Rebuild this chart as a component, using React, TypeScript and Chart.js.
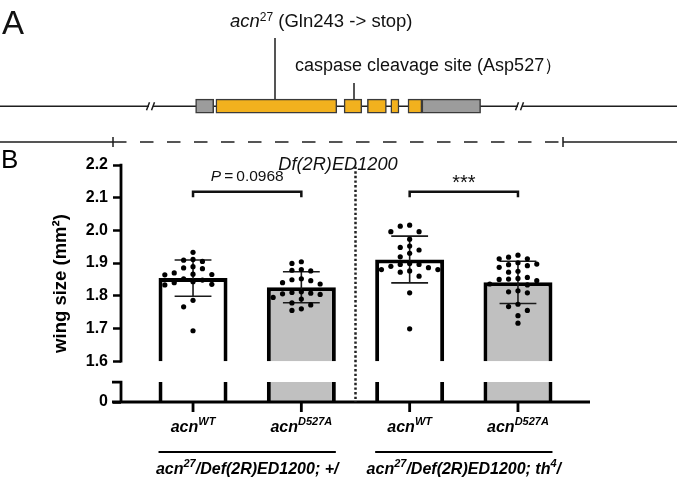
import React, { useEffect, useRef } from 'react';
import { Chart, registerables } from 'chart.js';
Chart.register(...registerables);

const FONT = "'Liberation Sans', Arial, Helvetica, sans-serif";

// ---------------- Panel A: gene model (arbitrary genomic units) ----------------
const GENE_SPAN = [0, 67.7];
const EXON_START = [19.56, 21.59, 34.41, 36.74, 39.08, 40.8, 42.19];
const EXON_END = [21.37, 33.68, 36.18, 38.64, 39.9, 42.19, 48.06];
const EXON_TYPE = ['UTR', 'CDS', 'CDS', 'CDS', 'CDS', 'CDS', 'UTR'];
const GENE_BREAKS = [15.1, 52.0];
const DELETION_SPAN = [11.3, 56.3];
const MUTATION_SITE = 27.5;
const CASPASE_SITE = 35.4;
const DELETION_NAME = 'Df(2R)ED1200';

// ---------------- Panel B: wing size ----------------
const GENOTYPE_SUP = ['WT', 'D527A', 'WT', 'D527A'];
const MEAN_WING = [1.854, 1.826, 1.911, 1.841];
const SD_WING = [0.0555, 0.0474, 0.0715, 0.0647];
const WING_WT_PLUS = [1.933, 1.911, 1.905, 1.909, 1.889, 1.885, 1.883, 1.870, 1.866, 1.865, 1.864, 1.852, 1.848, 1.843, 1.840, 1.835, 1.833, 1.786, 1.766, 1.693];
const WING_D527A_PLUS = [1.904, 1.899, 1.880, 1.876, 1.878, 1.852, 1.849, 1.846, 1.840, 1.836, 1.810, 1.808, 1.806, 1.812, 1.804, 1.795, 1.790, 1.778, 1.772, 1.760, 1.755];
const WING_WT_TH4 = [2.016, 2.013, 1.996, 1.996, 1.973, 1.952, 1.948, 1.940, 1.930, 1.919, 1.896, 1.896, 1.899, 1.890, 1.886, 1.880, 1.876, 1.872, 1.880, 1.860, 1.809, 1.699];
const WING_D527A_TH4 = [1.924, 1.913, 1.913, 1.918, 1.895, 1.887, 1.901, 1.892, 1.897, 1.872, 1.875, 1.853, 1.856, 1.850, 1.851, 1.833, 1.836, 1.846, 1.809, 1.815, 1.812, 1.774, 1.767, 1.755, 1.739, 1.716];
const WING_POINTS = [WING_WT_PLUS, WING_D527A_PLUS, WING_WT_TH4, WING_D527A_TH4];
const Y_TICKS = [0, 1.6, 1.7, 1.8, 1.9, 2.0, 2.1, 2.2];
const Y_MAX = 2.2;
const BREAK_AT = 1.6;
const COMPARE_A = [0, 2];
const COMPARE_B = [1, 3];
const COMPARE_TEXT = [[{ t: 'P', italic: true }, { t: '\u2009=\u20090.0968' }], [{ t: '***' }]];
const GROUP_MEMBERS = [[0, 1], [2, 3]];
const GROUP_LABELS = [
  [{ t: 'acn', italic: true }, { t: '27', sup: true, italic: true }, { t: '/Def(2R)ED1200; +/', italic: true }],
  [{ t: 'acn', italic: true }, { t: '27', sup: true, italic: true }, { t: '/Def(2R)ED1200; th', italic: true }, { t: '4', sup: true, italic: true }, { t: '/', italic: true }],
];

// broken-axis geometry (axis units)
const GAP_UNITS = 0.064;
const STUB_UNITS = 0.061;
const STUB_TOP = BREAK_AT - GAP_UNITS;
const AXIS_ZERO = STUB_TOP - STUB_UNITS;
const axisPos = (v: number) => (v >= BREAK_AT ? v : AXIS_ZERO);

type Seg = { t: string; sup?: boolean; italic?: boolean };

function fontStr(size: number, bold: boolean, italic: boolean) {
  return `${italic ? 'italic ' : ''}${bold ? 'bold ' : ''}${size}px ${FONT}`;
}

function drawRich(ctx: CanvasRenderingContext2D, segs: Seg[], x: number, y: number, align: 'left' | 'center', size: number, supSize: number, rise: number, bold: boolean) {
  let total = 0;
  const widths = segs.map((s) => {
    ctx.font = fontStr(s.sup ? supSize : size, bold, !!s.italic);
    const w = ctx.measureText(s.t).width;
    total += w;
    return w;
  });
  let cx = align === 'center' ? x - total / 2 : x;
  ctx.textAlign = 'left';
  ctx.textBaseline = 'alphabetic';
  segs.forEach((s, i) => {
    ctx.font = fontStr(s.sup ? supSize : size, bold, !!s.italic);
    ctx.fillText(s.t, cx, s.sup ? y - rise : y);
    cx += widths[i];
  });
}

function swarm(values: number[], step: number, minGap: number): number[] {
  const order = values.map((_, i) => i).sort((a, b) => values[b] - values[a]);
  const placed: { v: number; k: number }[] = [];
  const out = new Array(values.length).fill(0);
  for (const i of order) {
    const v = values[i];
    for (let n = 0; n < 30; n++) {
      const k = n === 0 ? 0 : n % 2 ? -Math.ceil(n / 2) : Math.ceil(n / 2);
      if (!placed.some((p) => p.k === k && Math.abs(p.v - v) < minGap)) {
        placed.push({ v, k });
        out[i] = k * step;
        break;
      }
    }
  }
  return out;
}

const GENE_ROW = 10.62;
const DELETION_ROW = 14.2;

const panelAPlugin = {
  id: 'panelA',
  beforeDatasetsDraw(chart: any) {
    const { ctx, scales: { x, y } } = chart;
    const gy = y.getPixelForValue(GENE_ROW);
    const dy = y.getPixelForValue(DELETION_ROW);
    ctx.save();
    ctx.strokeStyle = '#1e1e1e';
    ctx.lineWidth = 1.5;
    ctx.beginPath();
    ctx.moveTo(x.getPixelForValue(GENE_SPAN[0]), gy);
    ctx.lineTo(x.getPixelForValue(GENE_SPAN[1]), gy);
    ctx.stroke();
    GENE_BREAKS.forEach((b) => {
      const px = x.getPixelForValue(b);
      ctx.fillStyle = '#fff';
      ctx.fillRect(px - 2, gy - 2, 4, 4);
      ctx.beginPath();
      ctx.moveTo(px - 4.5, gy + 4);
      ctx.lineTo(px - 1.5, gy - 4);
      ctx.moveTo(px + 0.5, gy + 4);
      ctx.lineTo(px + 3.5, gy - 4);
      ctx.stroke();
    });
    const d0 = x.getPixelForValue(DELETION_SPAN[0]);
    const d1 = x.getPixelForValue(DELETION_SPAN[1]);
    ctx.beginPath();
    ctx.moveTo(x.getPixelForValue(GENE_SPAN[0]), dy);
    ctx.lineTo(d0, dy);
    ctx.moveTo(d1, dy);
    ctx.lineTo(x.getPixelForValue(GENE_SPAN[1]), dy);
    ctx.moveTo(d0, dy - 5);
    ctx.lineTo(d0, dy + 5);
    ctx.moveTo(d1, dy - 5);
    ctx.lineTo(d1, dy + 5);
    ctx.stroke();
    ctx.setLineDash([13.5, 13.5]);
    ctx.beginPath();
    ctx.moveTo(d0, dy);
    ctx.lineTo(d1, dy);
    ctx.stroke();
    ctx.setLineDash([]);
    // site markers
    const mx = x.getPixelForValue(MUTATION_SITE);
    const cx = x.getPixelForValue(CASPASE_SITE);
    ctx.beginPath();
    ctx.moveTo(mx, 38);
    ctx.lineTo(mx, gy - 7);
    ctx.moveTo(cx, 83);
    ctx.lineTo(cx, gy - 7);
    ctx.stroke();
    ctx.fillStyle = '#111';
    drawRich(ctx, [{ t: 'acn', italic: true }, { t: '27', sup: true }, { t: ' (Gln243 -> stop)' }], mx - 45, 27, 'left', 18.5, 12, 6.5, false);
    drawRich(ctx, [{ t: 'caspase cleavage site (Asp527\uFF09' }], cx - 59, 71, 'left', 18, 12, 6, false);
    drawRich(ctx, [{ t: DELETION_NAME, italic: true }], (d0 + d1) / 2, 170, 'center', 18.2, 12, 6, false);
    ctx.font = `33px ${FONT}`;
    ctx.textAlign = 'left';
    ctx.fillText('A', 2, 34);
    ctx.restore();
  },
};

const panelBPlugin = {
  id: 'panelB',
  afterDatasetDraw(chart: any, args: any) {
    if (args.index !== 1) return;
    const { ctx, scales: { x, y } } = chart;
    ctx.save();
    ctx.strokeStyle = '#1a1a1a';
    ctx.lineWidth = 1.6;
    MEAN_WING.forEach((m, i) => {
      const cx = x.getPixelForValue(i);
      const half = x.getPixelForValue(i + 0.17) - cx;
      const top = y.getPixelForValue(m + SD_WING[i]);
      const bot = y.getPixelForValue(m - SD_WING[i]);
      ctx.beginPath();
      ctx.moveTo(cx, top);
      ctx.lineTo(cx, bot);
      ctx.moveTo(cx - half, top);
      ctx.lineTo(cx + half, top);
      ctx.moveTo(cx - half, bot);
      ctx.lineTo(cx + half, bot);
      ctx.stroke();
    });
    ctx.restore();
  },
  afterDraw(chart: any) {
    const { ctx, chartArea: ca, scales: { x, y } } = chart;
    const zeroY = y.getPixelForValue(AXIS_ZERO);
    ctx.save();
    ctx.strokeStyle = '#000';
    ctx.lineWidth = 2.8;
    ctx.beginPath();
    ctx.moveTo(ca.left, y.getPixelForValue(Y_MAX) - 1.3);
    ctx.lineTo(ca.left, y.getPixelForValue(BREAK_AT) + 1.3);
    ctx.moveTo(ca.left, y.getPixelForValue(STUB_TOP));
    ctx.lineTo(ca.left, zeroY);
    ctx.moveTo(ca.left - 9, y.getPixelForValue(STUB_TOP));
    ctx.lineTo(ca.left + 1.4, y.getPixelForValue(STUB_TOP));
    ctx.moveTo(ca.left - 9, zeroY);
    ctx.lineTo(ca.right, zeroY);
    GENOTYPE_SUP.forEach((_, i) => {
      const px = x.getPixelForValue(i);
      ctx.moveTo(px, zeroY);
      ctx.lineTo(px, zeroY + 10);
    });
    ctx.stroke();
    // separator
    ctx.strokeStyle = '#222';
    ctx.lineWidth = 2.5;
    ctx.setLineDash([2.4, 2.2]);
    ctx.beginPath();
    const sx = x.getPixelForValue(1.5);
    ctx.moveTo(sx, y.getPixelForValue(2.195));
    ctx.lineTo(sx, zeroY);
    ctx.stroke();
    ctx.setLineDash([]);
    // brackets
    ctx.strokeStyle = '#111';
    ctx.lineWidth = 2.5;
    ctx.fillStyle = '#111';
    COMPARE_A.forEach((a, k) => {
      const xa = x.getPixelForValue(a);
      const xb = x.getPixelForValue(COMPARE_B[k]);
      const yb = y.getPixelForValue(2.118);
      const yd = y.getPixelForValue(2.101);
      ctx.beginPath();
      ctx.moveTo(xa, yd);
      ctx.lineTo(xa, yb);
      ctx.lineTo(xb, yb);
      ctx.lineTo(xb, yd);
      ctx.stroke();
      const segs = COMPARE_TEXT[k] as Seg[];
      const stars = segs.length === 1 && /^\*+$/.test(segs[0].t);
      if (stars) drawRich(ctx, segs, (xa + xb) / 2, yb - 3, 'center', 20, 12, 0, false);
      else drawRich(ctx, segs, (xa + xb) / 2, yb - 11.3, 'center', 15.5, 10, 0, false);
    });
    // category labels
    ctx.fillStyle = '#000';
    GENOTYPE_SUP.forEach((s, i) => {
      drawRich(ctx, [{ t: 'acn', italic: true }, { t: s, sup: true, italic: true }], x.getPixelForValue(i), zeroY + 30, 'center', 16, 11, 7, true);
    });
    // group lines and labels
    const meta = chart.getDatasetMeta(1);
    ctx.lineWidth = 2;
    ctx.strokeStyle = '#000';
    GROUP_MEMBERS.forEach((g, k) => {
      const e0 = meta.data[g[0]].getProps(['x', 'width'], true);
      const e1 = meta.data[g[1]].getProps(['x', 'width'], true);
      const l = e0.x - e0.width / 2;
      const r = e1.x + e1.width / 2;
      ctx.beginPath();
      ctx.moveTo(l, zeroY + 50);
      ctx.lineTo(r, zeroY + 50);
      ctx.stroke();
      drawRich(ctx, GROUP_LABELS[k] as Seg[], (l + r) / 2, zeroY + 72, 'center', 16, 11, 7, true);
    });
    ctx.font = `26px ${FONT}`;
    ctx.textAlign = 'left';
    ctx.textBaseline = 'alphabetic';
    ctx.fillText('B', 1, 28);
    ctx.restore();
  },
};

export default function App() {
  const refA = useRef<HTMLCanvasElement>(null);
  const refB = useRef<HTMLCanvasElement>(null);
  useEffect(() => {
    const exonData = EXON_START.map((s, i) => ({ y: GENE_ROW, x: [s, EXON_END[i]] }));
    const chartA = new Chart(refA.current as HTMLCanvasElement, {
      type: 'bar',
      data: {
        datasets: [
          {
            data: exonData as any,
            backgroundColor: EXON_TYPE.map((t) => (t === 'CDS' ? '#F2B11E' : '#9C9C9C')),
            borderColor: '#3a3a3a',
            borderWidth: 1.5,
            borderSkipped: false,
            barThickness: 14,
          } as any,
        ],
      },
      options: {
        indexAxis: 'y',
        animation: false,
        responsive: false,
        events: [],
        layout: { padding: 0 },
        plugins: { legend: { display: false }, tooltip: { enabled: false } },
        scales: {
          x: { type: 'linear', min: GENE_SPAN[0], max: GENE_SPAN[1], offset: false, display: false },
          y: { type: 'linear', min: 0, max: 18.5, reverse: true, offset: false, display: false },
        },
      } as any,
      plugins: [panelAPlugin],
    });

    const dots: { x: number; y: number }[] = [];
    WING_POINTS.forEach((vals, i) => {
      const offs = swarm(vals, 0.0868, 0.021);
      vals.forEach((v, j) => dots.push({ x: i + offs[j], y: axisPos(v) }));
    });
    const fills = GENOTYPE_SUP.map((s) => (s === 'WT' ? '#ffffff' : '#c0c0c0'));

    const chartB = new Chart(refB.current as HTMLCanvasElement, {
      type: 'bar',
      data: {
        datasets: [
          {
            type: 'scatter',
            data: dots,
            pointRadius: 2.6,
            pointBackgroundColor: '#000',
            pointBorderWidth: 0,
            order: 0,
          } as any,
          {
            type: 'bar',
            data: MEAN_WING.map((m, i) => ({ x: i, y: [axisPos(BREAK_AT), axisPos(m)] })),
            backgroundColor: fills,
            borderColor: '#000',
            borderWidth: { left: 4, right: 4, top: 4, bottom: 0 },
            borderSkipped: false,
            grouped: false,
            categoryPercentage: 1,
            barPercentage: 0.637,
            order: 1,
          } as any,
          {
            type: 'bar',
            data: MEAN_WING.map((_, i) => ({ x: i, y: [AXIS_ZERO, STUB_TOP] })),
            backgroundColor: fills,
            borderColor: '#000',
            borderWidth: { left: 4, right: 4, top: 0, bottom: 0 },
            borderSkipped: false,
            grouped: false,
            categoryPercentage: 1,
            barPercentage: 0.637,
            order: 2,
          } as any,
        ],
      },
      options: {
        animation: false,
        responsive: false,
        events: [],
        layout: { padding: { left: 0, right: 87, top: 25, bottom: 78 } },
        plugins: { legend: { display: false }, tooltip: { enabled: false } },
        scales: {
          x: {
            type: 'linear',
            min: -0.665,
            max: 3.665,
            offset: false,
            display: false,
            afterBuildTicks: (s: any) => {
              s.ticks = GENOTYPE_SUP.map((_, i) => ({ value: i }));
            },
          },
          y: {
            type: 'linear',
            min: AXIS_ZERO,
            max: Y_MAX,
            afterBuildTicks: (s: any) => {
              s.ticks = Y_TICKS.map((v) => ({ value: axisPos(v) }));
            },
            afterFit: (s: any) => {
              s.width = 121;
            },
            ticks: {
              color: '#000',
              padding: 5,
              font: { family: FONT, size: 16, weight: 'bold' },
              callback: (v: any) => (Math.abs(v - AXIS_ZERO) < 1e-6 ? '0' : Number(v).toFixed(1)),
            },
            grid: { drawOnChartArea: false, drawTicks: true, tickLength: 8, tickWidth: 2.5, tickColor: '#000', color: '#000' },
            border: { display: false },
            title: {
              display: true,
              text: 'wing size (mm\u00B2)',
              color: '#000',
              font: { family: FONT, size: 18.5, weight: 'bold' },
              padding: { top: 50, bottom: 0 },
            },
          },
        },
      } as any,
      plugins: [panelBPlugin],
    });
    return () => {
      chartA.destroy();
      chartB.destroy();
    };
  }, []);
  return (
    <div style={{ position: 'fixed', left: 0, top: 0, width: 677, height: 480, background: '#fff' }}>
      <canvas ref={refA} width={677} height={185} style={{ position: 'absolute', left: 0, top: 0, display: 'block' }} />
      <canvas ref={refB} width={677} height={340} style={{ position: 'absolute', left: 0, top: 140, display: 'block' }} />
    </div>
  );
}
